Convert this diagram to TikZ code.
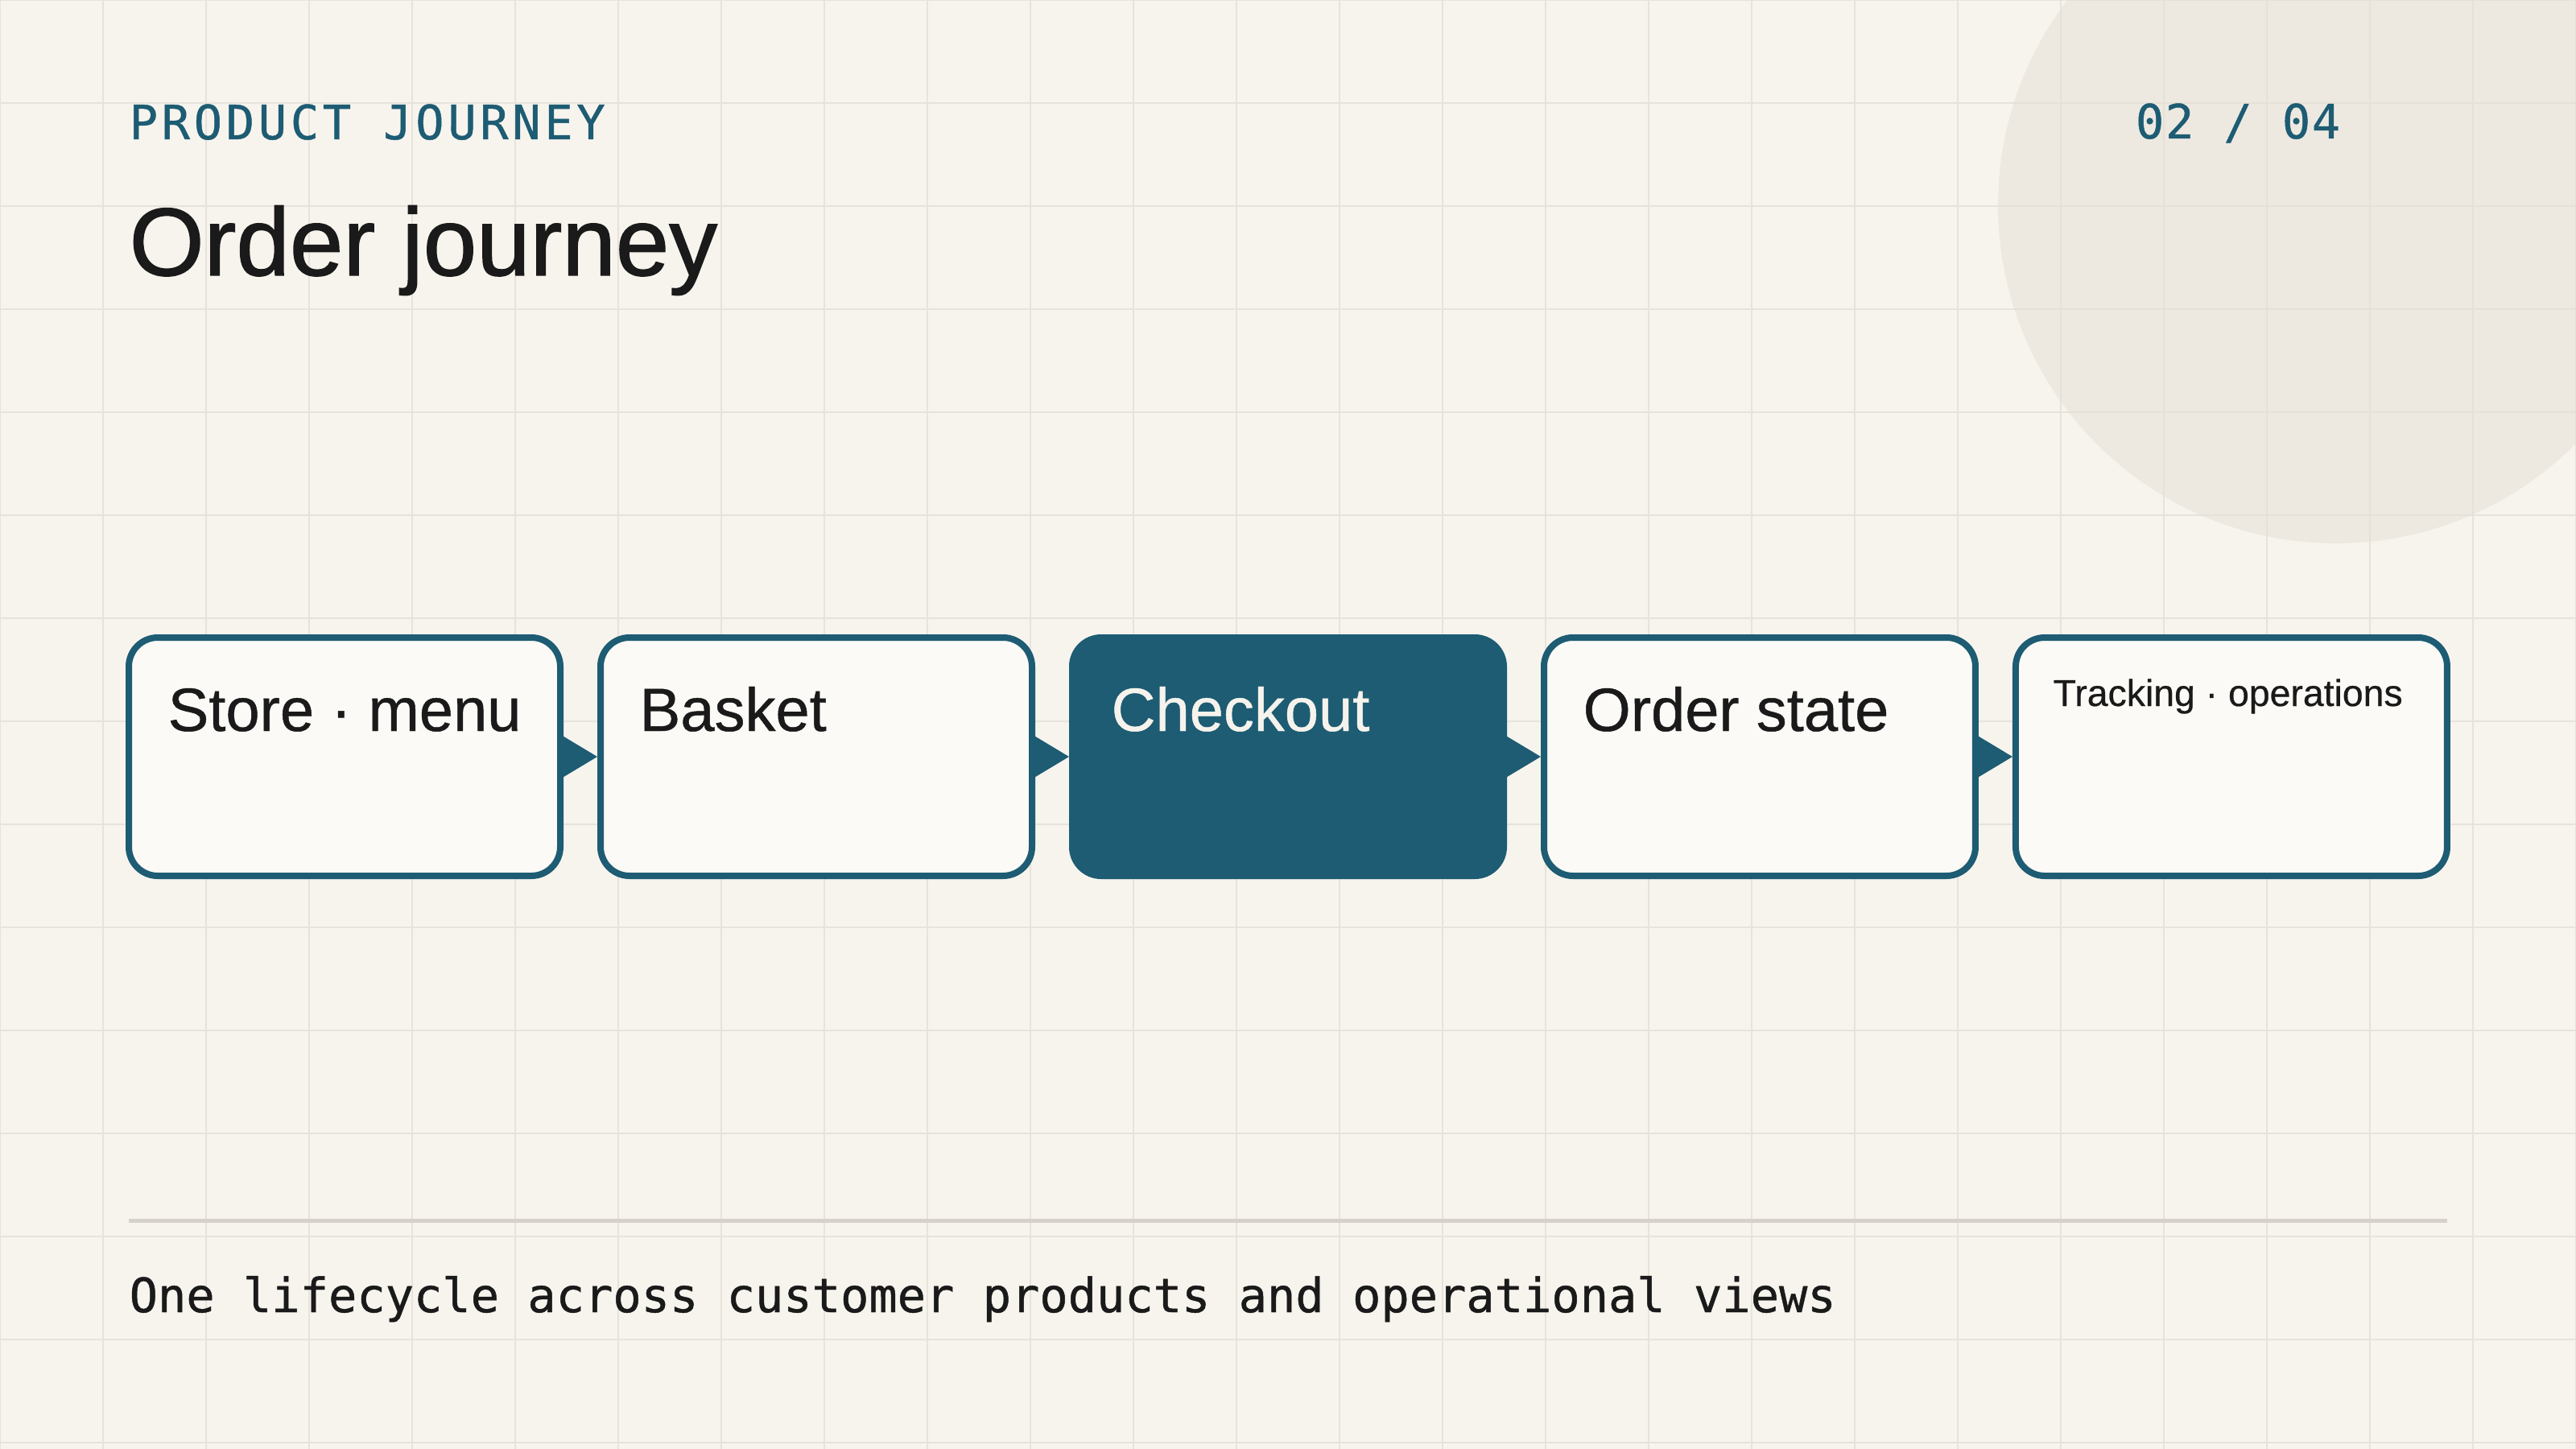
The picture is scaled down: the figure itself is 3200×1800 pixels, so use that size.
\documentclass[tikz,border=0pt]{standalone}
\usepackage{fontspec}
\setmainfont{Liberation Sans}
\setmonofont{DejaVu Sans Mono}
\usetikzlibrary{positioning, arrows.meta}

\definecolor{paper}{HTML}{F7F4EE}
\definecolor{gridc}{HTML}{E7E3DB}
\definecolor{blob}{HTML}{E4E0D6}
\definecolor{petrol}{HTML}{1D5C73}
\definecolor{card}{HTML}{FBFAF6}
\definecolor{ink}{HTML}{1A1A1A}
\definecolor{cream}{HTML}{F6F3EC}
\definecolor{rulec}{HTML}{D6D2CA}

\newcommand\titlefont{\fontsize{34}{39}\selectfont\addfontfeature{FakeBold=1.2}}
\newcommand\stagefont{\fontsize{21.6}{26}\selectfont\addfontfeature{FakeBold=0.6}}
\newcommand\smallstagefont{\fontsize{13.2}{16}\selectfont\addfontfeature{FakeBold=0.5}}
\newcommand\kickerfont{\ttfamily\fontsize{16.7}{20}\selectfont\addfontfeature{LetterSpace=8,FakeBold=0.8}}
\newcommand\pagefont{\ttfamily\fontsize{16.7}{20}\selectfont\addfontfeature{LetterSpace=3,FakeBold=0.8}}
\newcommand\notefont{\ttfamily\fontsize{16.7}{20}\selectfont\addfontfeature{FakeBold=0.8}}

\begin{document}
\begin{tikzpicture}[x=0.1mm, y=-0.1mm,
        gridline/.style  = {draw=gridc, line width=0.25mm},
        stage/.style     = {draw=petrol, line width=0.8mm, fill=card, rounded corners=3.6mm,
                            minimum width=53.6mm, minimum height=29.6mm, inner sep=0pt},
        active/.style    = {stage, fill=petrol},
        stagetext/.style = {anchor=base west, inner sep=0pt, font=\stagefont, text=ink},
        kicker/.style    = {anchor=base west, inner sep=0pt, font=\kickerfont, text=petrol},
        flow/.style      = {-{Triangle[length=4.2mm, width=5mm]}, draw=petrol, fill=petrol, line width=0.2mm},
        node distance=4.2mm]

    % background, grid and the pale disc top right
    \useasboundingbox (0,0) rectangle (3200,1800);
    \fill[paper] (0,0) rectangle (3200,1800);
    \foreach \gx in {0,128,...,3200}
        \draw[gridline] (\gx,0) -- (\gx,1800);
    \foreach \gy in {0,128,...,1792}
        \draw[gridline] (0,\gy) -- (3200,\gy);
    \fill[blob, fill opacity=0.5] (2902,255) circle [radius=42mm];

    % header
    \node[kicker] (kicker) at (160,173) {PRODUCT JOURNEY};
    \node[kicker, anchor=base east, font=\pagefont] (page) at (2908,172) {02 / 04};
    \node[anchor=base west, inner sep=0pt, font=\titlefont, text=ink] (title) at (160,342) {Order journey};

    % the five stages, left to right
    \node[stage] (s1) at (428,940) {};
    \node[stage, right=of s1] (s2) {};
    \node[active, right=of s2] (s3) {};
    \node[stage, right=of s3] (s4) {};
    \node[stage, right=of s4] (s5) {};

    \node[stagetext] (t1) at ([shift={(52,120)}]s1.north west) {Store · menu};
    \node[stagetext] (t2) at ([shift={(52,120)}]s2.north west) {Basket};
    \node[stagetext, text=cream] (t3) at ([shift={(52,120)}]s3.north west) {Checkout};
    \node[stagetext] (t4) at ([shift={(52,120)}]s4.north west) {Order state};
    \node[stagetext, font=\smallstagefont] (t5) at ([shift={(50,89)}]s5.north west) {Tracking · operations};

    % arrow heads between neighbouring stages
    \foreach \a/\b in {1/2,2/3,3/4,4/5}
        \draw[flow] (s\a.east) -- (s\b.west);

    % footer
    \draw[draw=rulec, line width=0.5mm] (160,1516) -- (3040,1516);
    \node[anchor=base west, inner sep=0pt, font=\notefont, text=ink] (note) at (160,1630)
        {One lifecycle across customer products and operational views};

\end{tikzpicture}
\end{document}
